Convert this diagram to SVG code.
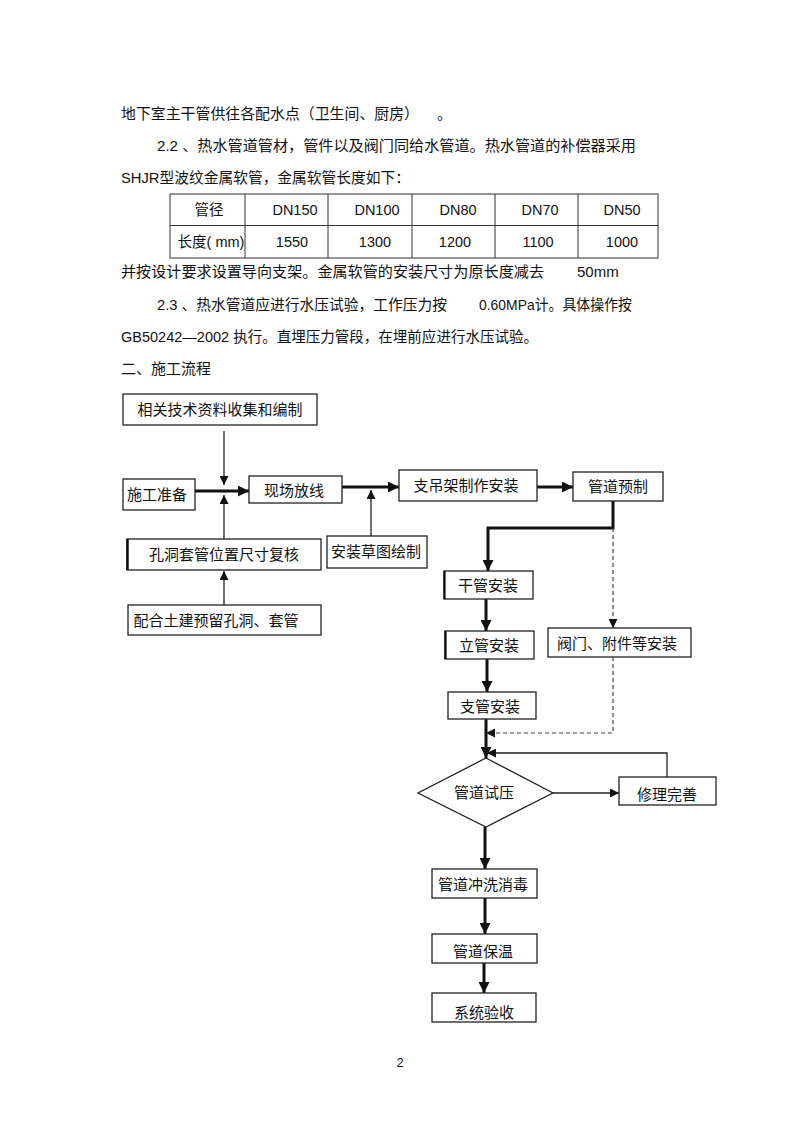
<svg xmlns="http://www.w3.org/2000/svg" width="800" height="1133" viewBox="0 0 800 1133">
<defs>
<style>
text{font-family:"Liberation Sans","Noto Sans CJK SC",sans-serif;fill:#111;}
.body{font-size:15px;}
.tb{font-size:14.5px;text-anchor:middle;}
.nt{font-size:15px;text-anchor:middle;}
.box{fill:#fff;stroke:#222;stroke-width:1.3;}
.thin{fill:none;stroke:#222;stroke-width:1.3;}
.thick{fill:none;stroke:#111;stroke-width:3;}
.dash{fill:none;stroke:#444;stroke-width:1.2;stroke-dasharray:4,3;}
.grid{fill:none;stroke:#333;stroke-width:1;}
</style>
<marker id="ah" viewBox="0 0 10 10" refX="10" refY="5" markerWidth="9" markerHeight="9" markerUnits="userSpaceOnUse" orient="auto"><path d="M0,0L10,5L0,10z" fill="#111"/></marker>
<marker id="ahb" viewBox="0 0 10 10" refX="10" refY="5" markerWidth="11" markerHeight="11" markerUnits="userSpaceOnUse" orient="auto"><path d="M0,0L10,5L0,10z" fill="#111"/></marker>
</defs>
<rect width="800" height="1133" fill="#fff"/>
<g id="body-text">
<text class="body" x="121" y="119" textLength="298" lengthAdjust="spacingAndGlyphs">地下室主干管供往各配水点（卫生间、厨房）</text>
<text class="body" x="437" y="119">。</text>
<text class="body" x="157" y="151" textLength="479" lengthAdjust="spacingAndGlyphs">2.2 、热水管道管材，管件以及阀门同给水管道。热水管道的补偿器采用</text>
<text class="body" x="121" y="183" textLength="289" lengthAdjust="spacingAndGlyphs">SHJR型波纹金属软管，金属软管长度如下：</text>
<text class="body" x="121" y="277" textLength="423" lengthAdjust="spacingAndGlyphs">并按设计要求设置导向支架。金属软管的安装尺寸为原长度减去</text>
<text class="body" x="577" y="277">50mm</text>
<text class="body" x="157" y="310" textLength="290" lengthAdjust="spacingAndGlyphs">2.3 、热水管道应进行水压试验，工作压力按</text>
<text class="body" x="479" y="310" textLength="153" lengthAdjust="spacingAndGlyphs">0.60MPa计。具体操作按</text>
<text class="body" x="121" y="342" textLength="417" lengthAdjust="spacingAndGlyphs">GB50242—2002 执行。直埋压力管段，在埋前应进行水压试验。</text>
<text class="body" x="121" y="374">二、施工流程</text>
<text class="body" x="400" y="1067" style="font-size:13px;text-anchor:middle">2</text>
</g>
<g id="table">
<rect class="grid" x="170" y="194" width="488" height="64"/>
<line class="grid" x1="170" y1="225.5" x2="658" y2="225.5"/>
<line class="grid" x1="245" y1="194" x2="245" y2="258"/>
<line class="grid" x1="328" y1="194" x2="328" y2="258"/>
<line class="grid" x1="412" y1="194" x2="412" y2="258"/>
<line class="grid" x1="495" y1="194" x2="495" y2="258"/>
<line class="grid" x1="578" y1="194" x2="578" y2="258"/>
<text class="tb" x="209" y="215">管径</text>
<text class="tb" x="295" y="215">DN150</text>
<text class="tb" x="377" y="215">DN100</text>
<text class="tb" x="458" y="215">DN80</text>
<text class="tb" x="540" y="215">DN70</text>
<text class="tb" x="622" y="215">DN50</text>
<text class="tb" x="211" y="247">长度( mm)</text>
<text class="tb" x="292" y="247">1550</text>
<text class="tb" x="375" y="247">1300</text>
<text class="tb" x="455" y="247">1200</text>
<text class="tb" x="538" y="247">1100</text>
<text class="tb" x="622" y="247">1000</text>
</g>
<g id="connectors">
<line class="thin" x1="224" y1="431" x2="224" y2="485" marker-end="url(#ah)"/>
<line class="thick" x1="195" y1="491" x2="249" y2="491" marker-end="url(#ahb)"/>
<line class="thin" x1="224" y1="539" x2="224" y2="495" marker-end="url(#ah)"/>
<line class="thin" x1="224" y1="605" x2="224" y2="571" marker-end="url(#ah)"/>
<line class="thick" x1="342" y1="487" x2="399" y2="487" marker-end="url(#ahb)"/>
<line class="thin" x1="371" y1="536" x2="371" y2="490" marker-end="url(#ah)"/>
<line class="thick" x1="537" y1="487" x2="573" y2="487" marker-end="url(#ahb)"/>
<polyline class="thick" points="613,501 613,528 488,528 488,571" marker-end="url(#ahb)"/>
<line class="dash" x1="613" y1="528" x2="613" y2="628" marker-end="url(#ah)"/>
<line class="thick" x1="486" y1="599" x2="486" y2="631" marker-end="url(#ahb)"/>
<line class="thick" x1="487" y1="659" x2="487" y2="692" marker-end="url(#ahb)"/>
<polyline class="dash" points="613,657 613,733 486,733" marker-end="url(#ah)"/>
<line class="thick" x1="486" y1="719" x2="486" y2="758" marker-end="url(#ahb)"/>
<polyline class="thin" points="667,777 667,753 487,753" marker-end="url(#ah)"/>
<line class="thin" x1="553" y1="793" x2="619" y2="793" marker-end="url(#ah)"/>
<line class="thick" x1="485" y1="827" x2="485" y2="869" marker-end="url(#ahb)"/>
<line class="thick" x1="485" y1="898" x2="485" y2="934" marker-end="url(#ahb)"/>
<line class="thick" x1="484" y1="963" x2="484" y2="993" marker-end="url(#ahb)"/>
</g>
<g id="n1"><rect class="box" x="123" y="394" width="194" height="31"/><text class="nt" x="220" y="415">相关技术资料收集和编制</text></g>
<g id="n2"><rect class="box" x="123" y="479" width="72" height="31"/><text class="nt" x="157" y="500">施工准备</text></g>
<g id="n3"><rect class="box" x="249" y="476" width="93" height="27"/><text class="nt" x="294" y="496">现场放线</text></g>
<g id="n4"><rect class="box" x="127" y="539" width="194" height="31"/><line x1="127.5" y1="539" x2="127.5" y2="570" stroke="#111" stroke-width="2.5"/><text class="nt" x="224" y="560">孔洞套管位置尺寸复核</text></g>
<g id="n5"><rect class="box" x="128" y="605" width="193" height="30"/><text class="nt" x="216" y="626">配合土建预留孔洞、套管</text></g>
<g id="n6"><rect class="box" x="399" y="470" width="138" height="31"/><text class="nt" x="466" y="491">支吊架制作安装</text></g>
<g id="n7"><rect class="box" x="327" y="536" width="100" height="32"/><text class="nt" x="376" y="557">安装草图绘制</text></g>
<g id="n8"><rect class="box" x="573" y="472" width="90" height="29"/><text class="nt" x="618" y="492">管道预制</text></g>
<g id="n9"><rect class="box" x="444" y="571" width="89" height="28"/><line x1="444.5" y1="571" x2="444.5" y2="599" stroke="#111" stroke-width="2.2"/><text class="nt" x="488" y="591">干管安装</text></g>
<g id="n10"><rect class="box" x="445" y="631" width="89" height="28"/><line x1="445.5" y1="631" x2="445.5" y2="659" stroke="#111" stroke-width="2.2"/><text class="nt" x="489" y="651">立管安装</text></g>
<g id="n11"><rect class="box" x="448" y="692" width="88" height="27"/><text class="nt" x="490" y="712">支管安装</text></g>
<g id="n12"><rect class="box" x="548" y="628" width="143" height="29"/><text class="nt" x="617" y="649">阀门、附件等安装</text></g>
<g id="n13"><polygon class="box" points="486,758 553,793 486,827 418,793"/><text class="nt" x="484" y="798">管道试压</text></g>
<g id="n14"><rect class="box" x="619" y="777" width="97" height="28"/><text class="nt" x="667" y="800">修理完善</text></g>
<g id="n15"><rect class="box" x="432" y="869" width="105" height="29"/><text class="nt" x="483" y="890">管道冲洗消毒</text></g>
<g id="n16"><rect class="box" x="432" y="934" width="105" height="29"/><text class="nt" x="483" y="957">管道保温</text></g>
<g id="n17"><rect class="box" x="432" y="993" width="104" height="29"/><text class="nt" x="484" y="1018">系统验收</text></g>
</svg>
